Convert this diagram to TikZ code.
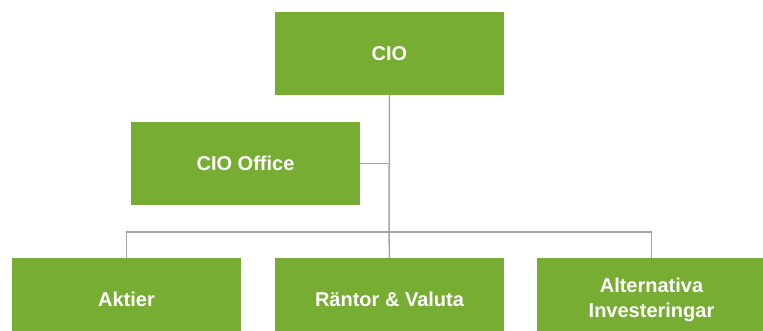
\documentclass[tikz,border=0pt]{standalone}
\usepackage{fontspec}
\setmainfont{Liberation Sans}
\definecolor{boxgreen}{HTML}{77AD32}
\definecolor{linegray}{HTML}{A6A6A6}
\begin{document}
\begin{tikzpicture}[x=1pt,y=-1pt,
  orgbox/.style={fill=boxgreen, draw=none, minimum width=229pt, minimum height=83pt,
    inner sep=0pt, text=white, font=\fontsize{20}{25}\selectfont\bfseries, align=center},
  conn/.style={draw=linegray, line width=1.5pt}]
\useasboundingbox (0,0) rectangle (763,331);
\begin{scope}
\clip (0,0) rectangle (763,331);
\node[orgbox] (cio) at (389.5,53.5) {CIO};
\node[orgbox] (office) at (245.5,163.5) {CIO Office};
\node[orgbox] (aktier) at (126.5,299.5) {Aktier};
\node[orgbox] (rantor) at (389.5,299.5) {Räntor \& Valuta};
\node[orgbox] (alt) at (651.5,299.5) {Alternativa\\Investeringar};
\coordinate (bus) at (389,232);
\draw[conn] (cio.south) -- (bus);
\draw[conn] (office.east) -- (office.east -| cio.south);
\draw[conn] (aktier.north) |- (bus) -| (alt.north);
\draw[conn] (bus) -- (rantor.north);
\end{scope}
\end{tikzpicture}
\end{document}
